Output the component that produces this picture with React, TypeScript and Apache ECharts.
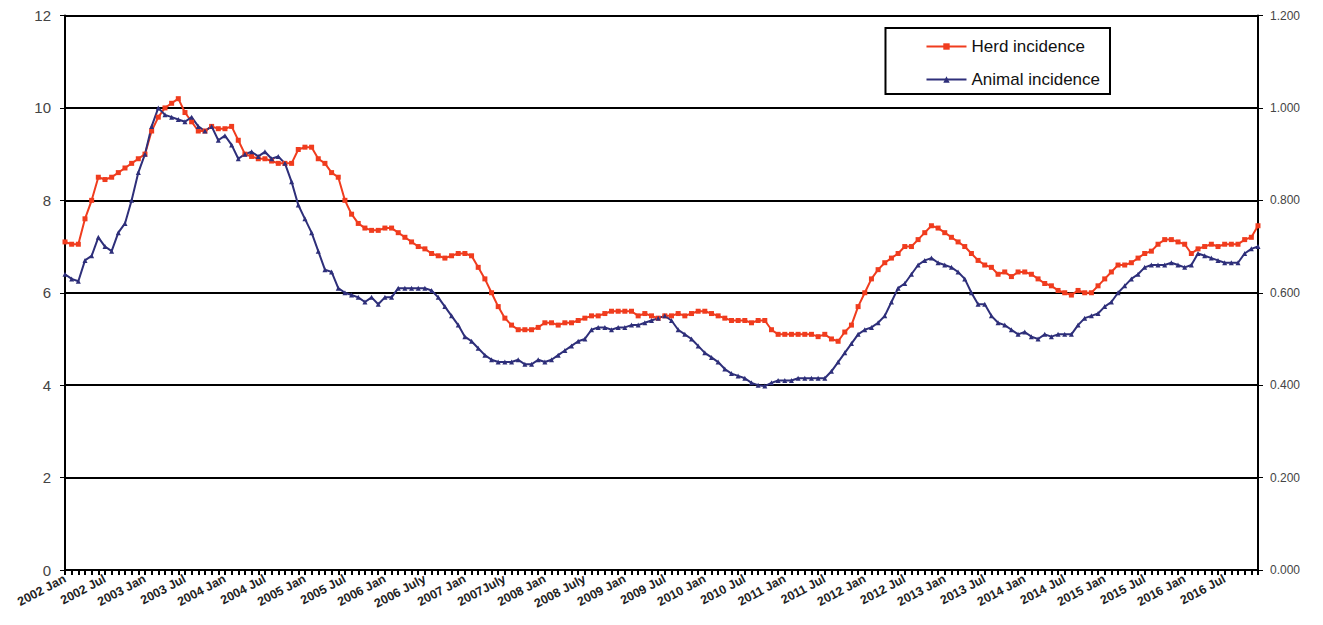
import React, { useEffect, useRef } from "react";
import * as echarts from "echarts";

const years = [2002, 2003, 2004, 2005, 2006, 2007, 2008, 2009, 2010, 2011, 2012, 2013, 2014, 2015, 2016];
const months = ["Jan", "Feb", "Mar", "Apr", "May", "Jun", "Jul", "Aug", "Sep", "Oct", "Nov", "Dec"];
const categories = years.flatMap((y) => months.map((m) => `${y} ${m}`));

const tickLabels = [
  "2002 Jan", "2002 Jul", "2003 Jan", "2003 Jul", "2004 Jan", "2004 Jul", "2005 Jan", "2005 Jul",
  "2006 Jan", "2006 July", "2007 Jan", "2007July", "2008 Jan", "2008 July", "2009 Jan", "2009 Jul",
  "2010 Jan", "2010 Jul", "2011 Jan", "2011 Jul", "2012 Jan", "2012 Jul", "2013 Jan", "2013 Jul",
  "2014 Jan", "2014 Jul", "2015 Jan", "2015 Jul", "2016 Jan", "2016 Jul",
];

const herdIncidence = [
  7.1, 7.05, 7.05, 7.6, 8.0, 8.5, 8.45, 8.5, 8.6, 8.7, 8.8, 8.9,
  9.0, 9.5, 9.8, 10.0, 10.1, 10.2, 9.9, 9.7, 9.5, 9.5, 9.6, 9.55,
  9.55, 9.6, 9.3, 9.0, 8.95, 8.9, 8.9, 8.85, 8.8, 8.8, 8.8, 9.1,
  9.15, 9.15, 8.9, 8.8, 8.6, 8.5, 8.0, 7.7, 7.5, 7.4, 7.35, 7.35,
  7.4, 7.4, 7.3, 7.2, 7.1, 7.0, 6.95, 6.85, 6.8, 6.75, 6.8, 6.85,
  6.85, 6.8, 6.55, 6.3, 6.0, 5.7, 5.45, 5.3, 5.2, 5.2, 5.2, 5.25,
  5.35, 5.35, 5.3, 5.35, 5.35, 5.4, 5.45, 5.5, 5.5, 5.55, 5.6, 5.6,
  5.6, 5.6, 5.5, 5.55, 5.5, 5.45, 5.5, 5.5, 5.55, 5.5, 5.55, 5.6,
  5.6, 5.55, 5.5, 5.45, 5.4, 5.4, 5.4, 5.35, 5.4, 5.4, 5.2, 5.1,
  5.1, 5.1, 5.1, 5.1, 5.1, 5.05, 5.1, 5.0, 4.95, 5.15, 5.3, 5.7,
  6.0, 6.3, 6.5, 6.65, 6.75, 6.85, 7.0, 7.0, 7.15, 7.3, 7.45, 7.4,
  7.3, 7.2, 7.1, 7.0, 6.85, 6.7, 6.6, 6.55, 6.4, 6.45, 6.35, 6.45,
  6.45, 6.4, 6.3, 6.2, 6.15, 6.05, 6.0, 5.95, 6.05, 6.0, 6.0, 6.15,
  6.3, 6.45, 6.6, 6.6, 6.65, 6.75, 6.85, 6.9, 7.05, 7.15, 7.15, 7.1,
  7.05, 6.85, 6.95, 7.0, 7.05, 7.0, 7.05, 7.05, 7.05, 7.15, 7.2, 7.45,
];

const animalIncidence = [
  0.64, 0.63, 0.625, 0.67, 0.68, 0.72, 0.70, 0.69, 0.73, 0.75, 0.80, 0.86,
  0.90, 0.96, 1.0, 0.985, 0.98, 0.975, 0.97, 0.98, 0.96, 0.95, 0.96, 0.93,
  0.94, 0.92, 0.89, 0.90, 0.905, 0.895, 0.905, 0.89, 0.895, 0.88, 0.84, 0.79,
  0.76, 0.73, 0.69, 0.65, 0.645, 0.61, 0.60, 0.595, 0.59, 0.58, 0.59, 0.575,
  0.59, 0.59, 0.61, 0.61, 0.61, 0.61, 0.61, 0.605, 0.59, 0.57, 0.55, 0.53,
  0.505, 0.495, 0.48, 0.465, 0.455, 0.45, 0.45, 0.45, 0.455, 0.445, 0.445, 0.455,
  0.45, 0.455, 0.465, 0.475, 0.485, 0.495, 0.50, 0.52, 0.525, 0.525, 0.52, 0.525,
  0.525, 0.53, 0.53, 0.535, 0.54, 0.545, 0.55, 0.54, 0.52, 0.51, 0.50, 0.485,
  0.47, 0.46, 0.45, 0.435, 0.425, 0.42, 0.415, 0.405, 0.40, 0.398, 0.405, 0.41,
  0.41, 0.41, 0.415, 0.415, 0.415, 0.415, 0.415, 0.43, 0.45, 0.47, 0.49, 0.51,
  0.52, 0.525, 0.535, 0.55, 0.58, 0.61, 0.62, 0.64, 0.66, 0.67, 0.675, 0.665,
  0.66, 0.655, 0.645, 0.63, 0.60, 0.575, 0.575, 0.55, 0.535, 0.53, 0.52, 0.51,
  0.515, 0.505, 0.50, 0.51, 0.505, 0.51, 0.51, 0.51, 0.53, 0.545, 0.55, 0.555,
  0.57, 0.58, 0.60, 0.615, 0.63, 0.64, 0.655, 0.66, 0.66, 0.66, 0.665, 0.66,
  0.655, 0.66, 0.685, 0.68, 0.675, 0.67, 0.665, 0.665, 0.665, 0.685, 0.695, 0.70,
];

export default function App() {
  const ref = useRef<HTMLDivElement>(null);

  useEffect(() => {
    const chart = echarts.init(ref.current!, null, { renderer: "svg" });
    chart.setOption({
      animation: false,
      textStyle: { fontFamily: "Arial, Liberation Sans, sans-serif" },
      grid: { left: 57, right: 57, top: 5, bottom: 47 },
      legend: {
        orient: "vertical",
        right: 205,
        top: 20,
        width: 240,
        borderColor: "#000",
        borderWidth: 2,
        padding: [10, 10, 6, 40],
        itemGap: 16,
        itemWidth: 40,
        itemHeight: 8,
        textStyle: { fontSize: 17, color: "#111" },
        data: ["Herd incidence", "Animal incidence"],
      },
      xAxis: {
        type: "category",
        boundaryGap: false,
        data: categories,
        axisLine: { lineStyle: { color: "#000", width: 2 } },
        axisTick: { interval: 0, length: 5, lineStyle: { color: "#000", width: 2 } },
        axisLabel: {
          interval: 5,
          rotate: 28,
          fontSize: 12.5,
          fontWeight: "bold",
          color: "#222",
          margin: 8,
          formatter: (_v: string, i: number) => tickLabels[i / 6] ?? "",
        },
      },
      yAxis: [
        {
          type: "value",
          min: 0,
          max: 12,
          interval: 2,
          axisLine: { show: true, lineStyle: { color: "#000", width: 2 } },
          axisTick: { show: true, length: 5, lineStyle: { color: "#000" } },
          axisLabel: { fontSize: 15, color: "#444", margin: 14 },
          splitLine: { lineStyle: { color: "#000", width: 2 } },
        },
        {
          type: "value",
          min: 0,
          max: 1.2,
          interval: 0.2,
          axisLine: { show: true, lineStyle: { color: "#000", width: 2 } },
          axisTick: { show: true, length: 5, lineStyle: { color: "#000" } },
          axisLabel: { fontSize: 12, color: "#444", margin: 12, formatter: (v: number) => v.toFixed(3) },
          splitLine: { show: false },
        },
      ],
      series: [
        {
          name: "Herd incidence",
          type: "line",
          data: herdIncidence,
          yAxisIndex: 0,
          symbol: "rect",
          symbolSize: 5,
          showAllSymbol: true,
          itemStyle: { color: "#f03c1e" },
          lineStyle: { color: "#f03c1e", width: 2 },
        },
        {
          name: "Animal incidence",
          type: "line",
          data: animalIncidence,
          yAxisIndex: 1,
          symbol: "triangle",
          symbolSize: 5,
          showAllSymbol: true,
          itemStyle: { color: "#2e2f7a" },
          lineStyle: { color: "#2e2f7a", width: 2 },
        },
      ],
    });
    return () => chart.dispose();
  }, []);

  return <div ref={ref} style={{ width: 1307, height: 609 }} />;
}
